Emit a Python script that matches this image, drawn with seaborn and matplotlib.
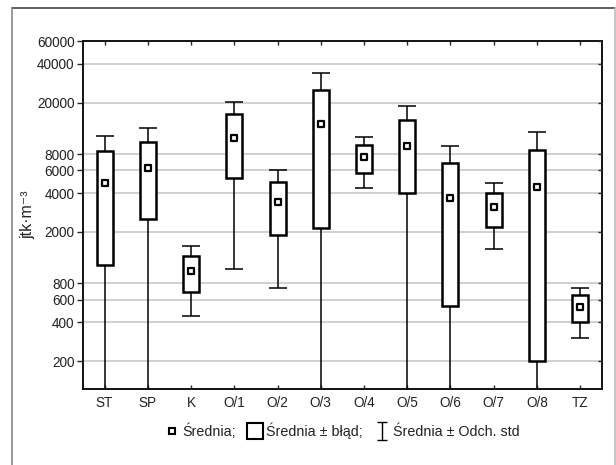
import numpy as np
import pandas as pd
import matplotlib
matplotlib.use("Agg")
import matplotlib.pyplot as plt
import seaborn as sns
from matplotlib.lines import Line2D
from matplotlib.path import Path
from matplotlib.ticker import FixedLocator, NullLocator, FuncFormatter

# values (jtk/m3): mean, standard error, standard deviation
categories = ["ST", "SP", "K", "O/1", "O/2", "O/3", "O/4", "O/5", "O/6", "O/7", "O/8", "TZ"]
means = [4770, 6200, 1000, 10730, 3400, 13620, 7590, 9330, 3690, 3116, 4430, 524]
se = [3660, 3670, 315, 5490, 1506, 11480, 1825, 5330, 3155, 919, 4230, 125]
sd = [6330, 6600, 553, 9690, 2660, 20320, 3250, 9370, 5555, 1630, 7420, 219]
yticks = [200, 400, 600, 800, 2000, 4000, 6000, 8000, 20000, 40000, 60000]

df = pd.DataFrame({"grupa": categories, "srednia": means, "blad": se, "odch": sd})

sns.set_style("white")
plt.rcParams["font.family"] = ["Liberation Sans", "DejaVu Sans"]
txt = "#222222"

fig = plt.figure(figsize=(6.16, 4.65), dpi=100)
ax = fig.add_axes([0.1347, 0.1634, 0.977 - 0.1347, 0.9118 - 0.1634])
ax.set_yscale("log")

pos = np.arange(len(categories))
# whiskers: mean +/- SD
ax.errorbar(pos, df["srednia"], yerr=df["odch"], fmt="none", ecolor="black",
            elinewidth=1.1, capsize=6.5, capthick=1.1, zorder=2)
# boxes: mean +/- SE
ax.bar(pos, 2 * df["blad"], bottom=df["srednia"] - df["blad"], width=0.37,
       facecolor="white", edgecolor="black", linewidth=1.8, zorder=3)
# means
sns.stripplot(data=df, x="grupa", y="srednia", order=categories, jitter=False,
              marker="s", s=5, color="white", edgecolor="black", linewidth=1.6,
              zorder=4, ax=ax)

ax.set_xlim(-0.5, len(categories) - 0.5)
ax.set_ylim(122, 60000)
ax.yaxis.set_major_locator(FixedLocator(yticks))
ax.yaxis.set_minor_locator(NullLocator())
ax.yaxis.set_major_formatter(FuncFormatter(lambda v, p: f"{int(round(v))}"))
ax.yaxis.grid(True, color="#c8c8c8", linewidth=1.2)
ax.set_axisbelow(True)
ax.set_xlabel("")
ax.set_ylabel("jtk·m⁻³", fontsize=11.5, color=txt, labelpad=1)
ax.tick_params(axis="y", direction="out", length=4, width=1, labelsize=9.8,
               labelcolor=txt, left=True, right=False, pad=2)
ax.tick_params(axis="x", direction="in", length=3, width=1, labelsize=9.8,
               labelcolor=txt, top=True, bottom=True, pad=5)
for s in ax.spines.values():
    s.set_linewidth(1.4)
    s.set_color("#111111")

# inward ticks on the right side
ax2 = ax.twinx()
ax2.set_yscale("log")
ax2.set_ylim(ax.get_ylim())
ax2.yaxis.set_major_locator(FixedLocator(yticks))
ax2.yaxis.set_minor_locator(NullLocator())
ax2.tick_params(axis="y", direction="in", length=3, width=1, labelright=False)
for s in ax2.spines.values():
    s.set_visible(False)

# legend
ibeam = Path([(-0.5, 1), (0.5, 1), (0, 1), (0, -1), (-0.5, -1), (0.5, -1)],
             [Path.MOVETO, Path.LINETO, Path.MOVETO, Path.LINETO, Path.MOVETO, Path.LINETO])
handles = [
    Line2D([], [], ls="none", marker="s", ms=4.5, mfc="white", mec="black", mew=1.5),
    Line2D([], [], ls="none", marker="s", ms=11, mfc="white", mec="black", mew=1.5),
    Line2D([], [], ls="none", marker=ibeam, ms=13, mfc="none", mec="black", mew=1),
]
labels = ["Średnia;", "Średnia ± błąd;", "Średnia ± Odch. std"]
fig.legend(handles, labels, loc="center", bbox_to_anchor=(0.556, 0.073), ncol=3,
           frameon=False, fontsize=10.3, handlelength=0.9, handletextpad=0.3,
           columnspacing=0.9, labelcolor=txt)

# outer frame
W, H = 616, 465
fig.add_artist(Line2D([12 / W, 615 / W], [1 - 8.5 / H, 1 - 8.5 / H], transform=fig.transFigure,
                      color="#444444", lw=1.2))
fig.add_artist(Line2D([12 / W, 12 / W], [0, 1 - 8.5 / H], transform=fig.transFigure,
                      color="#888888", lw=1.2))
fig.add_artist(Line2D([615 / W, 615 / W], [0, 1 - 8.5 / H], transform=fig.transFigure,
                      color="#bbbbbb", lw=1.2))

fig.savefig("out.png", dpi=100)
